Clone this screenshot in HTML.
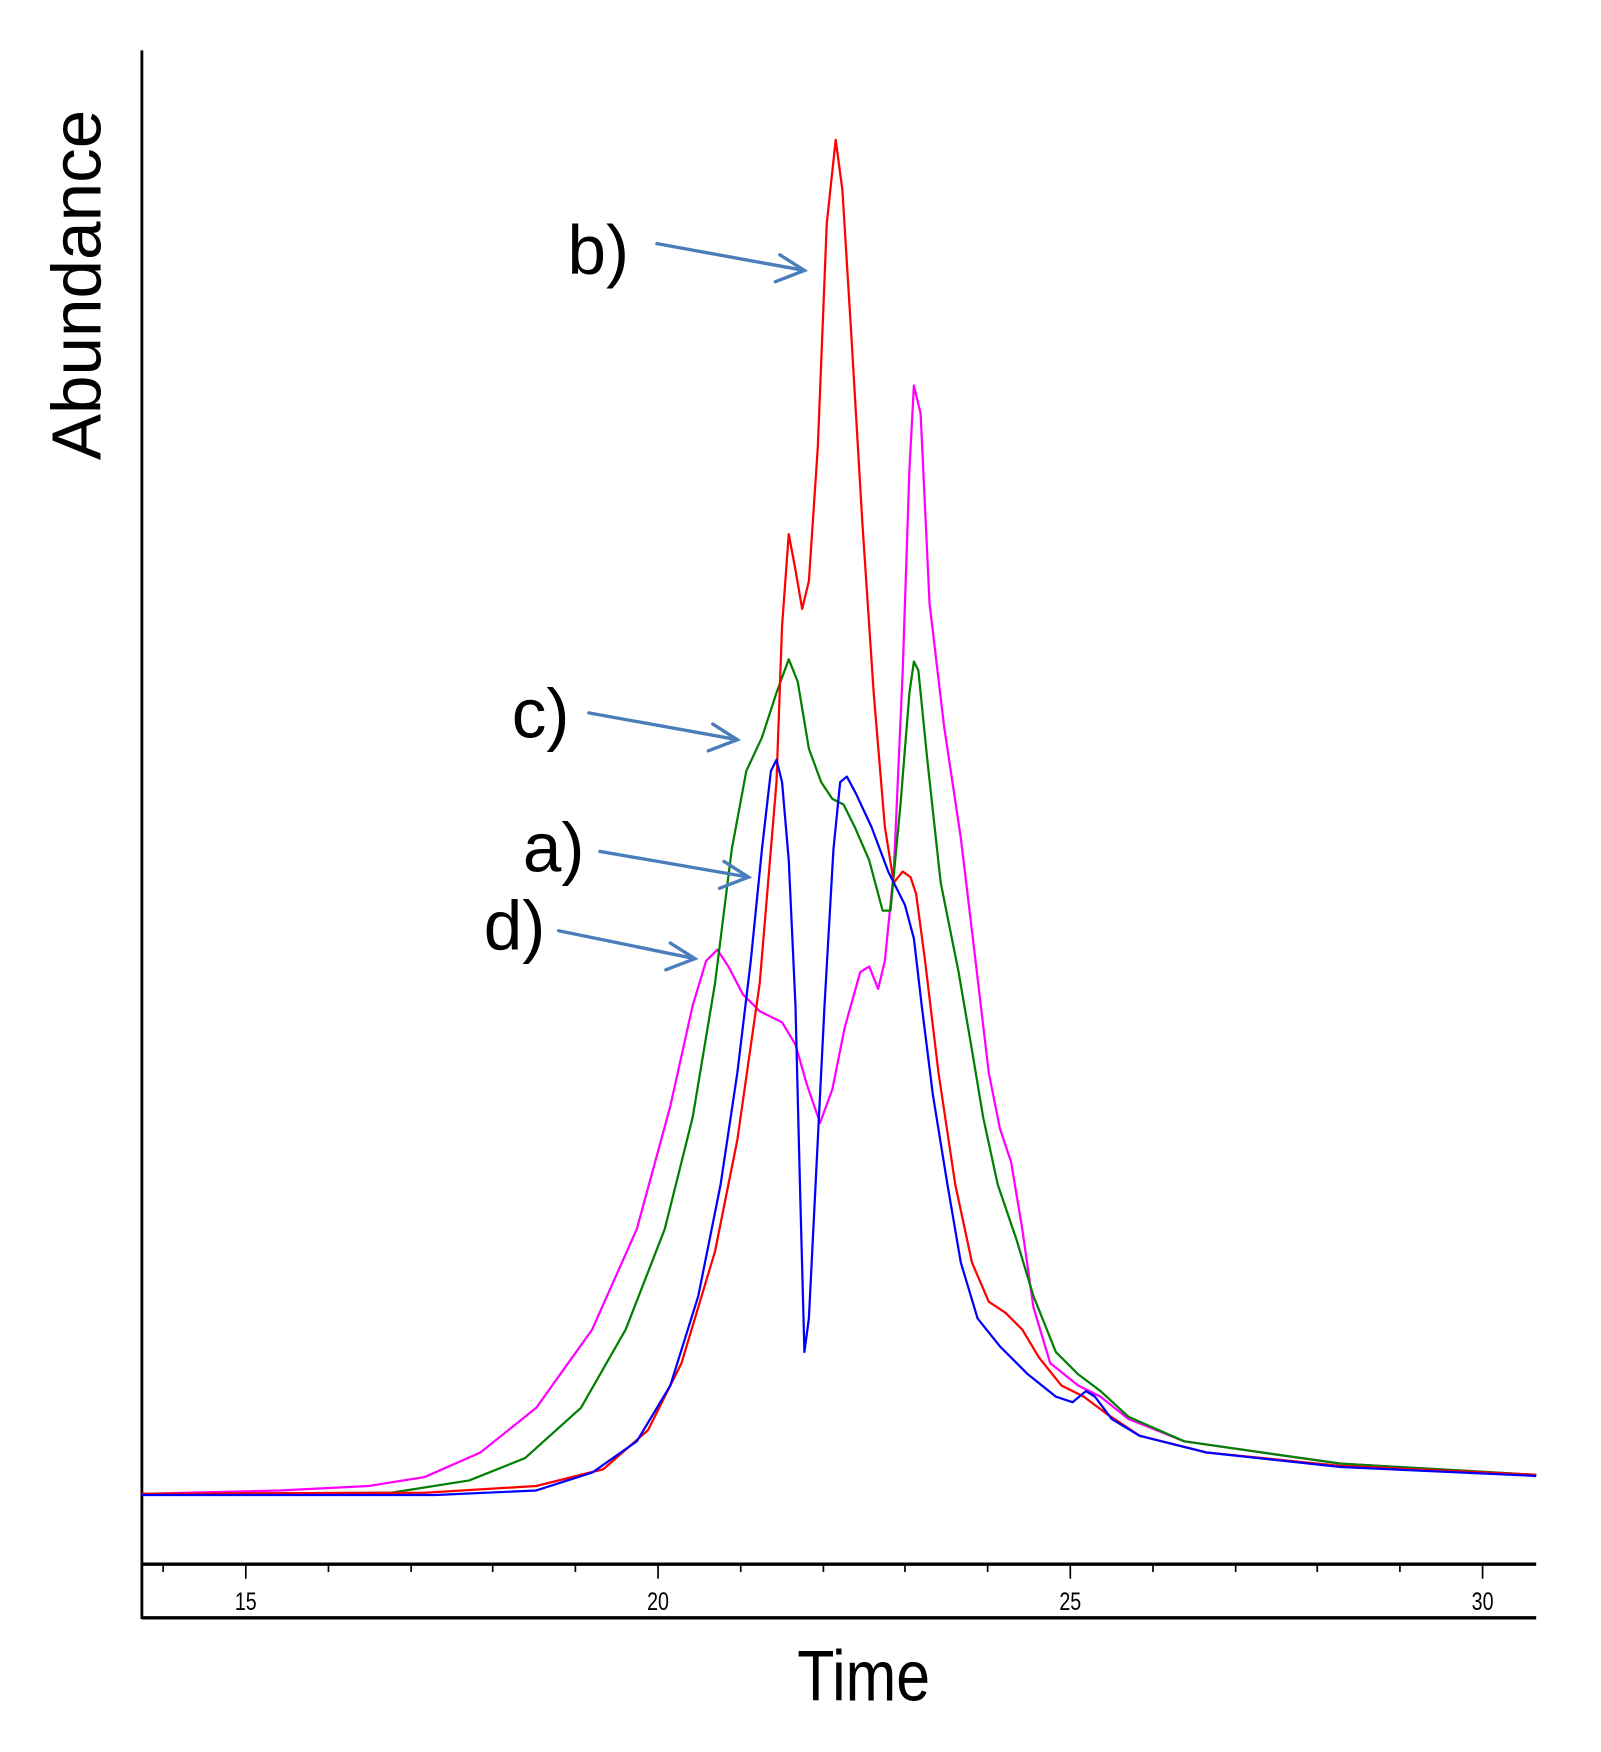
<!DOCTYPE html>
<html><head><meta charset="utf-8"><style>html,body{margin:0;padding:0;background:#fff}svg{display:block}</style></head>
<body>
<svg width="1601" height="1752" viewBox="0 0 1433 1568" xmlns="http://www.w3.org/2000/svg" font-family="Liberation Sans, sans-serif">
<rect width="1433" height="1568" fill="#fff"/>
<line x1="127" y1="45" x2="127" y2="1449" stroke="#000" stroke-width="2.5"/>
<line x1="127" y1="1400" x2="1375" y2="1400" stroke="#000" stroke-width="3"/>
<line x1="127" y1="1448" x2="1375" y2="1448" stroke="#000" stroke-width="3"/>
<g stroke="#000" stroke-width="1.5">
<line x1="146" y1="1400" x2="146" y2="1407"/>
<line x1="220" y1="1400" x2="220" y2="1413"/>
<line x1="294" y1="1400" x2="294" y2="1407"/>
<line x1="368" y1="1400" x2="368" y2="1407"/>
<line x1="441" y1="1400" x2="441" y2="1407"/>
<line x1="515" y1="1400" x2="515" y2="1407"/>
<line x1="589" y1="1400" x2="589" y2="1413"/>
<line x1="663" y1="1400" x2="663" y2="1407"/>
<line x1="737" y1="1400" x2="737" y2="1407"/>
<line x1="810" y1="1400" x2="810" y2="1407"/>
<line x1="884" y1="1400" x2="884" y2="1407"/>
<line x1="958" y1="1400" x2="958" y2="1413"/>
<line x1="1032" y1="1400" x2="1032" y2="1407"/>
<line x1="1106" y1="1400" x2="1106" y2="1407"/>
<line x1="1179" y1="1400" x2="1179" y2="1407"/>
<line x1="1253" y1="1400" x2="1253" y2="1407"/>
<line x1="1327" y1="1400" x2="1327" y2="1413"/>
</g>
<g font-size="22" text-anchor="middle" fill="#000">
<text transform="translate(220,1441) scale(0.8,1)">15</text>
<text transform="translate(589,1441) scale(0.8,1)">20</text>
<text transform="translate(958,1441) scale(0.8,1)">25</text>
<text transform="translate(1327,1441) scale(0.8,1)">30</text>
</g>
<text transform="translate(773,1522) scale(0.85,1)" font-size="64" text-anchor="middle">Time</text>
<text transform="translate(90,255) rotate(-90)" font-size="62" text-anchor="middle">Abundance</text>
<g fill="none" stroke-width="2" stroke-linejoin="round">
<polyline stroke="#ff00ff" points="127,1337 250,1334 330,1330 380,1322 430,1300 480,1260 530,1190 570,1100 600,990 620,900 632,860 642,850 652,865 665,890 680,905 700,915 712,935 722,970 734,1005 745,975 756,920 770,870 778,865 786,885 792,860 800,780 808,600 814,420 818,345 824,370 832,540 845,650 860,750 872,850 885,960 895,1010 905,1040 915,1100 925,1170 940,1220 965,1240 985,1250 1010,1270 1060,1290 1200,1310 1375,1320"/>
<polyline stroke="#008000" points="127,1337 350,1336 420,1325 470,1305 520,1260 560,1190 595,1100 620,1000 640,880 655,760 668,690 682,660 695,620 706,590 714,610 724,670 735,700 745,715 755,720 765,740 778,770 790,815 797,815 806,720 814,620 818,592 822,600 830,680 842,790 858,870 870,940 880,1000 893,1060 910,1110 925,1160 945,1210 965,1230 985,1245 1010,1268 1060,1290 1200,1310 1375,1320"/>
<polyline stroke="#ff0000" points="127,1337 380,1336 480,1330 540,1315 580,1280 610,1220 640,1120 660,1020 680,880 695,700 700,560 706,478 712,510 718,545 724,520 732,400 740,200 748,125 754,170 762,300 772,470 782,620 792,740 800,790 808,780 815,785 820,800 828,860 840,960 855,1060 870,1130 885,1165 900,1175 915,1190 930,1215 950,1240 970,1250 990,1265 1020,1285 1080,1300 1200,1312 1375,1320"/>
<polyline stroke="#0000ff" points="127,1338 390,1338 480,1334 530,1318 570,1290 600,1240 625,1160 645,1060 660,960 672,860 682,760 690,690 695,680 700,700 706,770 712,900 716,1060 720,1210 724,1180 730,1060 738,900 746,760 752,700 758,695 766,710 780,740 795,780 810,810 818,840 825,900 835,980 848,1060 860,1130 875,1180 895,1205 920,1230 945,1250 960,1255 972,1245 980,1250 995,1270 1020,1285 1080,1300 1200,1313 1375,1321"/>
</g>
<g stroke="#4a7ebb" stroke-width="3" fill="none" stroke-linecap="round">
<line x1="588" y1="218" x2="720" y2="242"/><polyline points="698,228 720,242 694,252"/>
<line x1="527" y1="638" x2="660" y2="662"/><polyline points="638,648 660,662 634,672"/>
<line x1="537" y1="762" x2="670" y2="785"/><polyline points="648,771 670,785 644,795"/>
<line x1="500" y1="833" x2="622" y2="858"/><polyline points="600,844 622,858 596,868"/>
</g>
<g font-size="62" fill="#000">
<text x="508" y="245">b)</text>
<text x="458" y="660">c)</text>
<text x="468" y="780">a)</text>
<text x="433" y="850">d)</text>
</g>
</svg>
</body></html>
